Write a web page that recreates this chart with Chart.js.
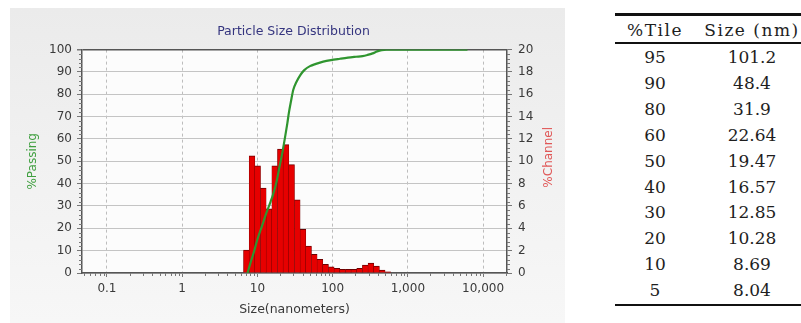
<!DOCTYPE html>
<html>
<head>
<meta charset="utf-8">
<script src="https://cdn.jsdelivr.net/npm/chart.js@4.4.1/dist/chart.umd.min.js"></script>
<style>
html, body { margin: 0; padding: 0; background: #fff; }
body { width: 801px; height: 323px; position: relative; overflow: hidden; font-family: "DejaVu Sans", sans-serif; }
#panel { position: absolute; left: 10px; top: 8px; width: 555px; height: 315px; background: linear-gradient(#ebebeb, #f7f7f7); }
#wrap { position: absolute; left: 0; top: 0; width: 575px; height: 323px; }
#tbl { position: absolute; left: 615px; top: 0; width: 186px; height: 323px; font-family: "DejaVu Serif", serif; font-size: 17px; color: #1e1e1e; }
.rule { position: absolute; left: 0; width: 186px; background: #111; }
.cell { position: absolute; width: 100px; text-align: center; line-height: 20px; height: 20px; }
.head { letter-spacing: 1.5px; }
</style>
</head>
<body>
<div id="panel"></div>
<div id="wrap"><canvas id="psd" width="575" height="323"></canvas></div>
<div id="tbl"></div>
<script>
// channel edges (nm) and %channel per bin
const binEdges = [6.54, 7.78, 9.25, 11.00, 13.08, 15.56, 18.50, 22.00, 26.16, 31.11, 37.00, 44.00, 52.33,
                  62.23, 74.00, 88.00, 104.7, 124.5, 148.0, 176.0, 209.3, 248.9, 296.0, 352.0, 418.6, 497.8, 592.0];
const channelPct = [2.05, 10.5, 9.6, 7.6, 5.75, 9.6, 11.1, 11.5, 9.7, 6.55, 3.9, 2.4, 1.68,
                    1.22, 0.78, 0.56, 0.42, 0.33, 0.33, 0.33, 0.42, 0.72, 0.88, 0.62, 0.27, 0.1];

// cumulative %passing curve
const passSize = [7.4, 8.0, 9.0, 10.0, 11.5, 13.2, 15.0, 16.1, 18.0, 19.8, 21.5, 23.1, 25.0, 26.3, 28.0,
                  30.0, 33.0, 37.0, 42.0, 50.0, 60.0, 75.0, 95.0, 125, 160, 205, 250, 290, 340, 390, 450, 520, 1000, 3000, 6200];
const passPct = [0, 4, 9.5, 15, 21, 27, 32, 35, 41, 48, 54, 60, 67, 72, 77,
                 82, 85.5, 88.5, 90.8, 92.6, 93.6, 94.6, 95.3, 95.9, 96.4, 96.8, 97.1, 97.6, 98.3, 99.2, 99.8, 100, 100, 100, 100];

const xTicks = [0.1, 1, 10, 100, 1000, 10000];

// percentile table
const tilePct = ['95', '90', '80', '60', '50', '40', '30', '20', '10', '5'];
const tileSize = ['101.2', '48.4', '31.9', '22.64', '19.47', '16.57', '12.85', '10.28', '8.69', '8.04'];

const binCenters = channelPct.map((v, i) => Math.sqrt(binEdges[i] * binEdges[i + 1]));

const tickFont = { family: 'DejaVu Sans', size: 12 };
const axisColor = '#555';

const plotBg = {
    id: 'plotBg',
    beforeDraw(chart) {
        const { ctx, chartArea: a } = chart;
        ctx.save();
        ctx.fillStyle = '#fcfcfc';
        ctx.fillRect(a.left, a.top, a.right - a.left, a.bottom - a.top);
        ctx.restore();
    }
};

// small ticks between the labelled ones
const minorTicks = {
    id: 'minorTicks',
    afterDraw(chart) {
        const { ctx, chartArea: a, scales } = chart;
        ctx.save();
        ctx.strokeStyle = '#777';
        ctx.lineWidth = 1;
        ctx.beginPath();
        for (let d = 0.01; d < 20000; d *= 10) {
            for (let m = 2; m <= 9; m++) {
                const v = d * m;
                if (v < scales.x.min || v > scales.x.max) continue;
                const px = Math.round(scales.x.getPixelForValue(v)) + 0.5;
                ctx.moveTo(px, a.bottom);
                ctx.lineTo(px, a.bottom + 3);
            }
        }
        for (let v = 2; v < 100; v += 2) {
            if (v % 10 === 0) continue;
            const py = Math.round(scales.y.getPixelForValue(v)) + 0.5;
            ctx.moveTo(a.left - 3, py);
            ctx.lineTo(a.left, py);
        }
        for (let k = 1; k < 50; k++) {
            if (k % 5 === 0) continue;
            const py = Math.round(scales.y2.getPixelForValue(k * 0.4)) + 0.5;
            ctx.moveTo(a.right, py);
            ctx.lineTo(a.right + 3, py);
        }
        ctx.stroke();

        // right axis title reads bottom-to-top
        ctx.translate(549, (a.top + a.bottom) / 2 - 4);
        ctx.rotate(-Math.PI / 2);
        ctx.font = '12px "DejaVu Sans"';
        ctx.fillStyle = '#e05858';
        ctx.textAlign = 'center';
        ctx.textBaseline = 'middle';
        ctx.fillText('%Channel', 0, 0);
        ctx.restore();
    }
};

new Chart(document.getElementById('psd').getContext('2d'), {
    type: 'bar',
    data: {
        datasets: [
            {
                type: 'line',
                label: '%Passing',
                data: passSize.map((s, i) => ({ x: s, y: passPct[i] })),
                yAxisID: 'y',
                borderColor: '#2f952f',
                borderWidth: 2.2,
                pointRadius: 0,
                cubicInterpolationMode: 'monotone',
                order: 0
            },
            {
                type: 'bar',
                label: '%Channel',
                data: binCenters.map((c, i) => ({ x: c, y: channelPct[i] })),
                yAxisID: 'y2',
                backgroundColor: '#e60000',
                borderColor: '#6e0000',
                borderWidth: { top: 1, left: 0.5, right: 0.5, bottom: 0 },
                borderSkipped: false,
                barPercentage: 1,
                categoryPercentage: 1,
                order: 1
            }
        ]
    },
    options: {
        responsive: false,
        animation: false,
        layout: { padding: { left: 12, right: 0, top: 0, bottom: 0 } },
        plugins: {
            legend: { display: false },
            tooltip: { enabled: false },
            title: {
                display: true,
                text: 'Particle Size Distribution',
                color: '#35357f',
                font: { family: 'DejaVu Sans', size: 12.5, weight: 'normal' },
                padding: { top: 24, bottom: 10.6 }
            }
        },
        scales: {
            x: {
                type: 'logarithmic',
                min: 0.0466,
                max: 20800,
                offset: false,
                afterBuildTicks: s => { s.ticks = xTicks.map(v => ({ value: v })); },
                afterFit: s => { s.height = 50; },
                ticks: {
                    color: '#3a3a3a',
                    font: tickFont,
                    padding: 5,
                    maxRotation: 0,
                    autoSkip: false,
                    callback: v => Number(v).toLocaleString('en-US')
                },
                grid: { offset: false, color: '#bdbdbd', tickLength: 4, tickColor: '#777' },
                border: { color: axisColor, width: 1.5, dash: [3, 3] },
                title: {
                    display: true,
                    text: 'Size(nanometers)',
                    color: '#3a3a3a',
                    font: { family: 'DejaVu Sans', size: 12.5 },
                    padding: { top: 0, bottom: 6 }
                }
            },
            y: {
                position: 'left',
                min: 0,
                max: 100,
                afterFit: s => { s.width = 70; },
                ticks: { stepSize: 10, color: '#3a3a3a', font: tickFont, padding: 5 },
                grid: {
                    color: c => (c.tick && c.tick.value === 100 ? axisColor : '#c4c4c4'),
                    lineWidth: c => (c.tick && c.tick.value === 100 ? 1.5 : 1),
                    tickLength: 5,
                    tickColor: '#777'
                },
                border: { color: axisColor, width: 1.5 },
                title: {
                    display: true,
                    text: '%Passing',
                    color: '#3f9f3f',
                    font: { family: 'DejaVu Sans', size: 12 },
                    padding: { top: 14, bottom: 0 }
                }
            },
            y2: {
                position: 'right',
                min: 0,
                max: 20,
                afterFit: s => { s.width = 68; },
                ticks: { stepSize: 2, color: '#3a3a3a', font: tickFont, padding: 6 },
                grid: { drawOnChartArea: false, tickLength: 5, tickColor: '#777' },
                border: { color: axisColor, width: 1.5 }
            }
        }
    },
    plugins: [plotBg, minorTicks]
});

// percentile table on the right
const tbl = document.getElementById('tbl');
function addRule(top, h) {
    const r = document.createElement('div');
    r.className = 'rule';
    r.style.top = top + 'px';
    r.style.height = h + 'px';
    tbl.appendChild(r);
}
function addCell(text, cx, cy, cls) {
    const c = document.createElement('div');
    c.className = 'cell' + (cls ? ' ' + cls : '');
    c.textContent = text;
    c.style.left = (cx - 50) + 'px';
    c.style.top = (cy - 10) + 'px';
    tbl.appendChild(c);
}
addRule(13, 2.5);
addRule(42, 2);
addRule(303.5, 2.5);
addCell('%Tile', 40, 30, 'head');
addCell('Size (nm)', 137, 30, 'head');
tilePct.forEach((p, i) => {
    const cy = 57 + i * 25.9;
    addCell(p, 40, cy);
    addCell(tileSize[i], 137, cy);
});
</script>
</body>
</html>
